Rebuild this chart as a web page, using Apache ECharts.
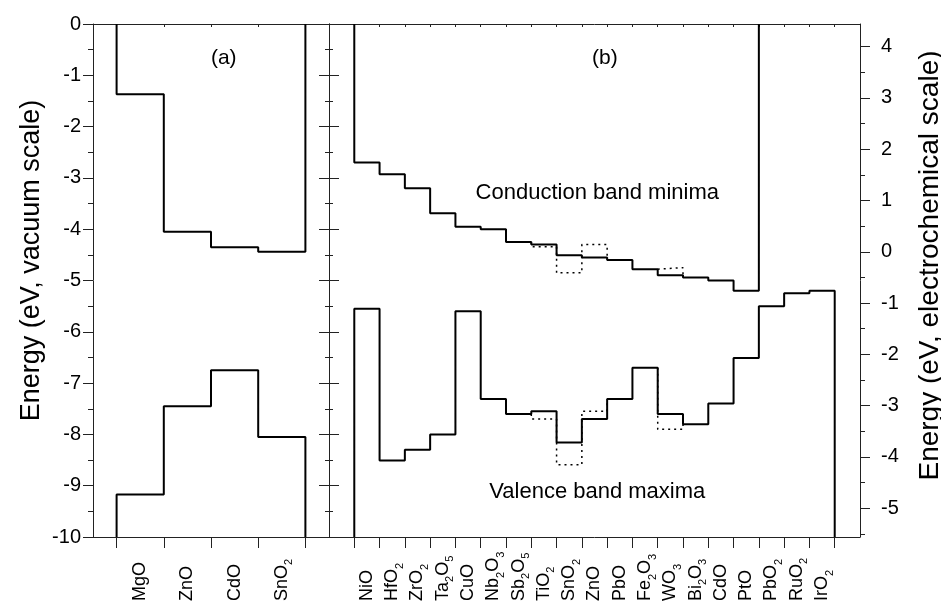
<!DOCTYPE html>
<html>
<head>
<meta charset="utf-8">
<script src="https://cdn.jsdelivr.net/npm/echarts@6/dist/echarts.min.js"></script>
<style>
html,body{margin:0;padding:0;background:#fff;}
#c{width:941px;height:603px;}
</style>
</head>
<body>
<div id="c"></div>
<script>
// ---------- data ----------
const catsA = ['MgO', 'ZnO', 'CdO', 'SnO2'];
const cbA = [-1.37, -4.05, -4.35, -4.44];
const vbA = [-9.17, -7.45, -6.75, -8.05];

const catsB = ['NiO', 'HfO2', 'ZrO2', 'Ta2O5', 'CuO', 'Nb2O3', 'Sb2O5', 'TiO2', 'SnO2', 'ZnO',
               'PbO', 'Fe2O3', 'WO3', 'Bi2O3', 'CdO', 'PtO', 'PbO2', 'RuO2', 'IrO2'];
const cbB = [-2.70, -2.93, -3.20, -3.69, -3.95, -4.00, -4.25, -4.30, -4.51, -4.55,
             -4.60, -4.78, -4.90, -4.94, -5.00, -5.20, null, null, null];
const vbB = [-5.55, -8.51, -8.30, -8.00, -5.60, -7.31, -7.60, -7.55, -8.16, -7.70,
             -7.31, -6.70, -7.60, -7.80, -7.40, -6.51, -5.50, -5.25, -5.20];
// alternative (dotted) values
const cbBalt = [null, null, null, null, null, null, null, -4.34, -4.85, -4.30,
                null, null, -4.75, null, null, null, null, null, null];
const vbBalt = [null, null, null, null, null, null, null, -7.70, -8.59, -7.55,
                null, null, -7.90, null, null, null, null, null, null];

const vacMin = -10, vacMax = 0;
const ecOffset = 4.44;              // electrochemical = vacuum + 4.44
const ecTicks = [-5, -4, -3, -2, -1, 0, 1, 2, 3, 4];
const ecMinorTicks = [-5.5, -4.5, -3.5, -2.5, -1.5, -0.5, 0.5, 1.5, 2.5, 3.5];

// ---------- helpers ----------
function rich(name) {
  return name.replace(/([A-Za-z]+)|(\d+)/g, (m, a, d) => a ? '{m|' + a + '}' : '{s|' + d + '}');
}
function steps(vals, x0, edge) {
  const pts = [];
  let last = -1;
  for (let i = 0; i < vals.length; i++) if (vals[i] != null) last = i;
  pts.push([x0, edge]);
  for (let i = 0; i <= last; i++) {
    pts.push([x0 + i, vals[i]]);
    pts.push([x0 + i + 1, vals[i]]);
  }
  pts.push([x0 + last + 1, edge]);
  return pts;
}
function altRuns(alt, base, x0) {
  const runs = [];
  let i = 0;
  while (i < alt.length) {
    if (alt[i] == null) { i++; continue; }
    const pts = [[x0 + i, base[i - 1]]];
    while (i < alt.length && alt[i] != null) {
      pts.push([x0 + i, alt[i]]);
      pts.push([x0 + i + 1, alt[i]]);
      i++;
    }
    if (i < base.length && base[i] != null) pts.push([x0 + i, base[i]]);
    runs.push(pts);
  }
  return runs;
}

const FONT = 'Liberation Sans, Arial, Helvetica, sans-serif';
const black = '#000';
const axisColor = '#222';
const richStyle = {
  m: { fontSize: 18, fontFamily: FONT, color: black, lineHeight: 26, verticalAlign: 'middle' },
  s: { fontSize: 11, fontFamily: FONT, color: black, lineHeight: 26, verticalAlign: 'bottom' }
};

const xA0 = 0.5, xB0 = 1;
const centersA = catsA.map((_, i) => xA0 + i + 0.5);
const edgesA = catsA.map((_, i) => xA0 + i).concat([xA0 + catsA.length]);
const centersB = catsB.map((_, i) => xB0 + i + 0.5);
const edgesB = catsB.map((_, i) => xB0 + i).concat([xB0 + catsB.length]);

const lineSolid = { color: black, width: 2 };
const lineDot = { color: black, width: 1.5, type: [2, 4] };

const series = [];
function addLine(pts, xi, yi, style) {
  series.push({ type: 'line', xAxisIndex: xi, yAxisIndex: yi, data: pts, symbol: 'none',
    lineStyle: style, clip: false, silent: true, animation: false, z: 5 });
}
addLine(steps(cbA, xA0, vacMax), 0, 0, lineSolid);
addLine(steps(vbA, xA0, vacMin), 0, 0, lineSolid);
addLine(steps(cbB, xB0, vacMax), 2, 2, lineSolid);
addLine(steps(vbB, xB0, vacMin), 2, 2, lineSolid);
altRuns(cbBalt, cbB, xB0).forEach(r => addLine(r, 2, 2, lineDot));
altRuns(vbBalt, vbB, xB0).forEach(r => addLine(r, 2, 2, lineDot));

function addText(text, x, y, xi, yi, size) {
  series.push({ type: 'scatter', xAxisIndex: xi, yAxisIndex: yi, symbolSize: 0,
    itemStyle: { color: black, opacity: 1 }, silent: true, animation: false,
    data: [[x, y]],
    label: { show: true, position: 'inside', formatter: text, fontSize: size,
      fontFamily: FONT, color: black, opacity: 1, textBorderWidth: 0 } });
}
addText('(a)', 2.77, -0.67, 0, 0, 21);
addText('(b)', 10.91, -0.67, 2, 2, 21);
addText('Conduction band minima', 10.61, -3.30, 2, 2, 22);
addText('Valence band maxima', 10.61, -9.12, 2, 2, 22);

const baseLine = { show: true, onZero: false, lineStyle: { color: axisColor, width: 1 } };

const option = {
  backgroundColor: '#fff',
  animation: false,
  grid: [
    { left: 93, top: 24, width: 236, height: 513, containLabel: false, outerBoundsMode: 'none' },
    { left: 329, top: 24, width: 531, height: 513, containLabel: false, outerBoundsMode: 'none' }
  ],
  xAxis: [
    { gridIndex: 0, type: 'value', position: 'bottom', min: 0, max: 5,
      axisLine: baseLine, splitLine: { show: false },
      axisTick: { show: true, customValues: edgesA, length: 11, lineStyle: { color: axisColor } },
      axisLabel: { customValues: centersA, rotate: 90, align: 'left', verticalAlign: 'middle',
        margin: 64, formatter: v => rich(catsA[Math.round(v - xA0 - 0.5)]), rich: richStyle } },
    { gridIndex: 0, type: 'value', position: 'top', min: 0, max: 5,
      axisLine: baseLine, splitLine: { show: false },
      axisTick: { show: true, inside: true, customValues: edgesA, length: 3, lineStyle: { color: axisColor } },
      axisLabel: { show: false } },
    { gridIndex: 1, type: 'value', position: 'bottom', min: 0, max: 21,
      axisLine: baseLine, splitLine: { show: false },
      axisTick: { show: true, customValues: edgesB, length: 11, lineStyle: { color: axisColor } },
      axisLabel: { customValues: centersB, rotate: 90, align: 'left', verticalAlign: 'middle',
        margin: 64, formatter: v => rich(catsB[Math.round(v - xB0 - 0.5)]), rich: richStyle } },
    { gridIndex: 1, type: 'value', position: 'top', min: 0, max: 21,
      axisLine: baseLine, splitLine: { show: false },
      axisTick: { show: true, inside: true, customValues: edgesB, length: 3, lineStyle: { color: axisColor } },
      axisLabel: { show: false } }
  ],
  yAxis: [
    { gridIndex: 0, type: 'value', position: 'left', min: vacMin, max: vacMax, interval: 1,
      axisLine: baseLine, splitLine: { show: false },
      axisTick: { show: true, length: 10, lineStyle: { color: axisColor } },
      minorTick: { show: true, splitNumber: 2, length: 5, lineStyle: { color: axisColor } },
      axisLabel: { fontSize: 20, fontFamily: FONT, color: black, margin: 12 },
      name: 'Energy (eV, vacuum scale)', nameLocation: 'middle', nameRotate: 90, nameGap: 48,
      nameTextStyle: { fontSize: 27, fontFamily: FONT, color: black, padding: [0, 0, 0, 40] } },
    { gridIndex: 0, type: 'value', position: 'right', min: vacMin, max: vacMax, interval: 1,
      axisLine: baseLine, splitLine: { show: false },
      axisTick: { show: true, length: 10, lineStyle: { color: axisColor } },
      minorTick: { show: true, splitNumber: 2, length: 4, lineStyle: { color: axisColor } },
      axisLabel: { show: false } },
    { gridIndex: 1, type: 'value', position: 'left', min: vacMin, max: vacMax, interval: 1,
      axisLine: baseLine, splitLine: { show: false },
      axisTick: { show: true, length: 10, lineStyle: { color: axisColor } },
      minorTick: { show: true, splitNumber: 2, length: 4, lineStyle: { color: axisColor } },
      axisLabel: { show: false } },
    { gridIndex: 1, type: 'value', position: 'right', min: vacMin + ecOffset, max: vacMax + ecOffset,
      axisLine: baseLine, splitLine: { show: false },
      axisTick: { show: true, customValues: ecTicks, length: 10, lineStyle: { color: axisColor } },
      axisLabel: { customValues: ecTicks, fontSize: 20, fontFamily: FONT, color: black, margin: 21 },
      name: 'Energy (eV, electrochemical scale)', nameLocation: 'middle', nameRotate: 90, nameGap: 56,
      nameTextStyle: { fontSize: 28, fontFamily: FONT, color: black, padding: [0, 0, 0, 30] } },
    { gridIndex: 1, type: 'value', position: 'right', min: vacMin + ecOffset, max: vacMax + ecOffset,
      axisLine: { show: false, onZero: false }, splitLine: { show: false },
      axisTick: { show: true, customValues: ecMinorTicks, length: 5, lineStyle: { color: axisColor } },
      axisLabel: { show: false } }
  ],
  series: series
};

const chart = echarts.init(document.getElementById('c'), null, { renderer: 'canvas' });
chart.setOption(option);
</script>
</body>
</html>
